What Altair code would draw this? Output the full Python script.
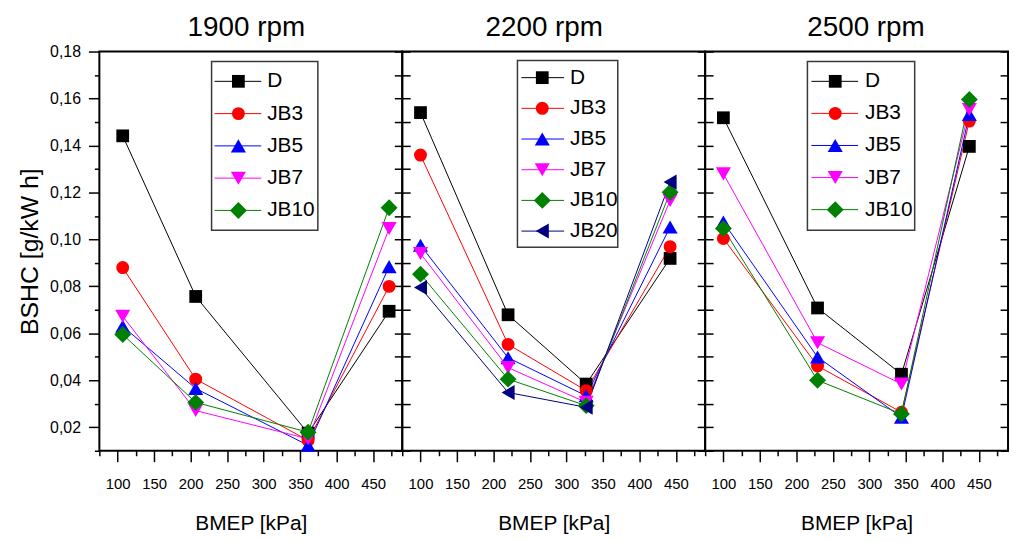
import altair as alt
import pandas as pd

# ---------------- data ----------------
series = ["D", "JB3", "JB5", "JB7", "JB10", "JB20"]
series_colors = ["#000000", "#ff0000", "#0000ff", "#ff00ff", "#008000", "#000080"]
series_shapes = ["square", "circle", "triangle-up", "triangle-down", "diamond", "triangle-left"]

rpm_titles = ["1900 rpm", "2200 rpm", "2500 rpm"]

bmep_1900 = [107, 207, 361, 472]
d_1900 = [0.1441, 0.0757, 0.0175, 0.0694]
jb3_1900 = [0.0880, 0.0405, 0.0144, 0.0800]
jb5_1900 = [0.0630, 0.0365, 0.0123, 0.0884]
jb7_1900 = [0.0673, 0.0271, 0.0151, 0.1046]
jb10_1900 = [0.0595, 0.0306, 0.0179, 0.1135]

bmep_2200 = [100, 220, 327, 442]
d_2200 = [0.1540, 0.0679, 0.0384, 0.0919]
jb3_2200 = [0.1359, 0.0553, 0.0356, 0.0969]
jb5_2200 = [0.0975, 0.0496, 0.0334, 0.1053]
jb7_2200 = [0.0940, 0.0454, 0.0306, 0.1166]
jb10_2200 = [0.0852, 0.0405, 0.0292, 0.1201]
jb20_2200 = [0.0795, 0.0348, 0.0285, 0.1244]

bmep_2500 = [100, 229, 344, 437]
d_2500 = [0.1518, 0.0708, 0.0426, 0.1396]
jb3_2500 = [0.1004, 0.0461, 0.0264, 0.1504]
jb5_2500 = [0.1074, 0.0499, 0.0243, 0.1532]
jb7_2500 = [0.1279, 0.0560, 0.0384, 0.1553]
jb10_2500 = [0.1046, 0.0400, 0.0257, 0.1596]

x_ticks = list(range(75, 476, 25))
y_ticks = [round(0.01 * k, 2) for k in range(1, 19)]

# ---------------- style ----------------
W, H = 305, 402
YMIN, YMAX = 0.01, 0.18
PPU = H / (YMAX - YMIN)
FONT = "Liberation Sans, Arial, sans-serif"
marker_sizes = [165, 170, 230, 230, 290, 230]

color_scale = alt.Scale(domain=series, range=series_colors)
shape_scale = alt.Scale(domain=series, range=series_shapes)
size_scale = alt.Scale(type="ordinal", domain=series, range=marker_sizes)
xscale = alt.Scale(domain=[75, 490], nice=False, zero=False)
yscale = alt.Scale(domain=[YMIN, YMAX], nice=False, zero=False)

x_axis = alt.Axis(
    values=x_ticks,
    labelExpr="datum.value % 50 == 0 ? datum.value : ''",
    tickSize={"condition": {"test": "datum.value % 50 == 0", "value": 11}, "value": 5},
    tickWidth=1.5, tickColor="black", domain=False, grid=False,
    labelFont=FONT, labelFontSize=15, labelColor="black", labelPadding=15,
    labelFlush=False, labelOverlap=False,
    title="BMEP [kPa]", titleFont=FONT, titleFontSize=21, titleFontWeight="normal",
    titleColor="black", titlePadding=21,
)

y_left_labeled = alt.Axis(
    orient="left", values=y_ticks,
    labelExpr="round(datum.value*100) % 2 == 0 ? replace(format(datum.value, '.2f'), '.', ',') : ''",
    tickSize={"condition": {"test": "round(datum.value*100) % 2 == 0", "value": 11}, "value": 5},
    tickWidth=1.5, tickColor="black", domain=False, grid=False,
    labelFont=FONT, labelFontSize=16, labelColor="black", labelPadding=8,
    labelFlush=False, labelOverlap=False,
    title="BSHC  [g/kW h]", titleFont=FONT, titleFontSize=25, titleFontWeight="normal",
    titleColor="black", titlePadding=7,
)


def inward_axis(orient):
    return alt.Axis(
        orient=orient, values=y_ticks, labels=False, title=None,
        tickSize=alt.ExprRef(expr="-8"), tickWidth=1.5, tickColor="black",
        domain=False, grid=False,
    )


def make_panel(title, bmep, values_by_series, leg):
    rows = []
    for s, vals in values_by_series:
        for xv, yv in zip(bmep, vals):
            rows.append({"series": s, "bmep": xv, "bshc": yv})
    df = pd.DataFrame(rows)
    names = [s for s, _ in values_by_series]
    base = alt.Chart(df)

    left_axis = y_left_labeled if leg["first"] else inward_axis("left")
    lines = base.mark_line(strokeWidth=1).encode(
        x=alt.X("bmep:Q", scale=xscale, axis=x_axis),
        y=alt.Y("bshc:Q", scale=yscale, axis=left_axis),
        color=alt.Color("series:N", scale=color_scale, legend=None),
        detail="series:N",
    )
    points = base.mark_point(filled=True, opacity=1).encode(
        x=alt.X("bmep:Q", scale=xscale, axis=x_axis),
        y=alt.Y("bshc:Q", scale=yscale, axis=inward_axis("right")),
        color=alt.Color("series:N", scale=color_scale, legend=None),
        shape=alt.Shape("series:N", scale=shape_scale, legend=None),
        size=alt.Size("series:N", scale=size_scale, legend=None),
    )

    one = pd.DataFrame({"k": [0]})
    head = alt.Chart(one).mark_text(
        text=title, font=FONT, fontSize=28, color="black",
        align="center", baseline="alphabetic",
    ).encode(x=alt.value(leg["title_x"]), y=alt.value(-15.3))

    # legend (positions are layout, labels come from the series list)
    ldf = pd.DataFrame({
        "series": names,
        "ly": [YMAX - (leg["first_y"] + i * leg["step"]) / PPU for i in range(len(names))],
    })
    lbase = alt.Chart(ldf)
    box = alt.Chart(one).mark_rect(
        fill="white", stroke="#3a3a3a", strokeWidth=1.5
    ).encode(
        x=alt.value(leg["box"][0]), x2=alt.value(leg["box"][1]),
        y=alt.value(leg["box"][2]), y2=alt.value(leg["box"][3]),
    )
    lrule = lbase.mark_rule(strokeWidth=1).encode(
        x=alt.value(leg["line"][0]), x2=alt.value(leg["line"][1]),
        y=alt.Y("ly:Q", scale=yscale, axis=None),
        color=alt.Color("series:N", scale=color_scale, legend=None),
    )
    lpts = lbase.mark_point(filled=True, opacity=1).encode(
        x=alt.value(leg["sym"]),
        y=alt.Y("ly:Q", scale=yscale, axis=None),
        color=alt.Color("series:N", scale=color_scale, legend=None),
        shape=alt.Shape("series:N", scale=shape_scale, legend=None),
        size=alt.Size("series:N", scale=size_scale, legend=None),
    )
    ltxt = lbase.mark_text(
        align="left", baseline="middle", font=FONT, fontSize=21, color="black"
    ).encode(
        x=alt.value(leg["text"]),
        y=alt.Y("ly:Q", scale=yscale, axis=None),
        text="series:N",
    )

    return alt.layer(lines, points, box, lrule, lpts, ltxt, head).resolve_axis(
        y="independent"
    ).properties(width=W, height=H)


p1 = make_panel(
    rpm_titles[0], bmep_1900,
    [("D", d_1900), ("JB3", jb3_1900), ("JB5", jb5_1900), ("JB7", jb7_1900), ("JB10", jb10_1900)],
    {"first": True, "first_y": 30, "step": 32.5, "box": [113, 220, 10, 180],
     "line": [116, 163], "sym": 140, "text": 169, "title_x": 148},
)
p2 = make_panel(
    rpm_titles[1], bmep_2200,
    [("D", d_2200), ("JB3", jb3_2200), ("JB5", jb5_2200), ("JB7", jb7_2200),
     ("JB10", jb10_2200), ("JB20", jb20_2200)],
    {"first": False, "first_y": 26.3, "step": 30.9, "box": [116, 217, 9, 197],
     "line": [120, 163], "sym": 141, "text": 169, "title_x": 143},
)
p3 = make_panel(
    rpm_titles[2], bmep_2500,
    [("D", d_2500), ("JB3", jb3_2500), ("JB5", jb5_2500), ("JB7", jb7_2500), ("JB10", jb10_2500)],
    {"first": False, "first_y": 30, "step": 32.3, "box": [103, 211, 10, 180],
     "line": [107, 154], "sym": 131, "text": 161, "title_x": 162},
)

chart = alt.hconcat(p1, p2, p3, spacing=0, bounds="flush").properties(
    padding={"left": 8, "top": 3, "right": 2, "bottom": 0},
    background="white",
).configure_view(stroke="black", strokeWidth=2)

chart.save("out.html", embed_options={"renderer": "svg", "actions": False})
